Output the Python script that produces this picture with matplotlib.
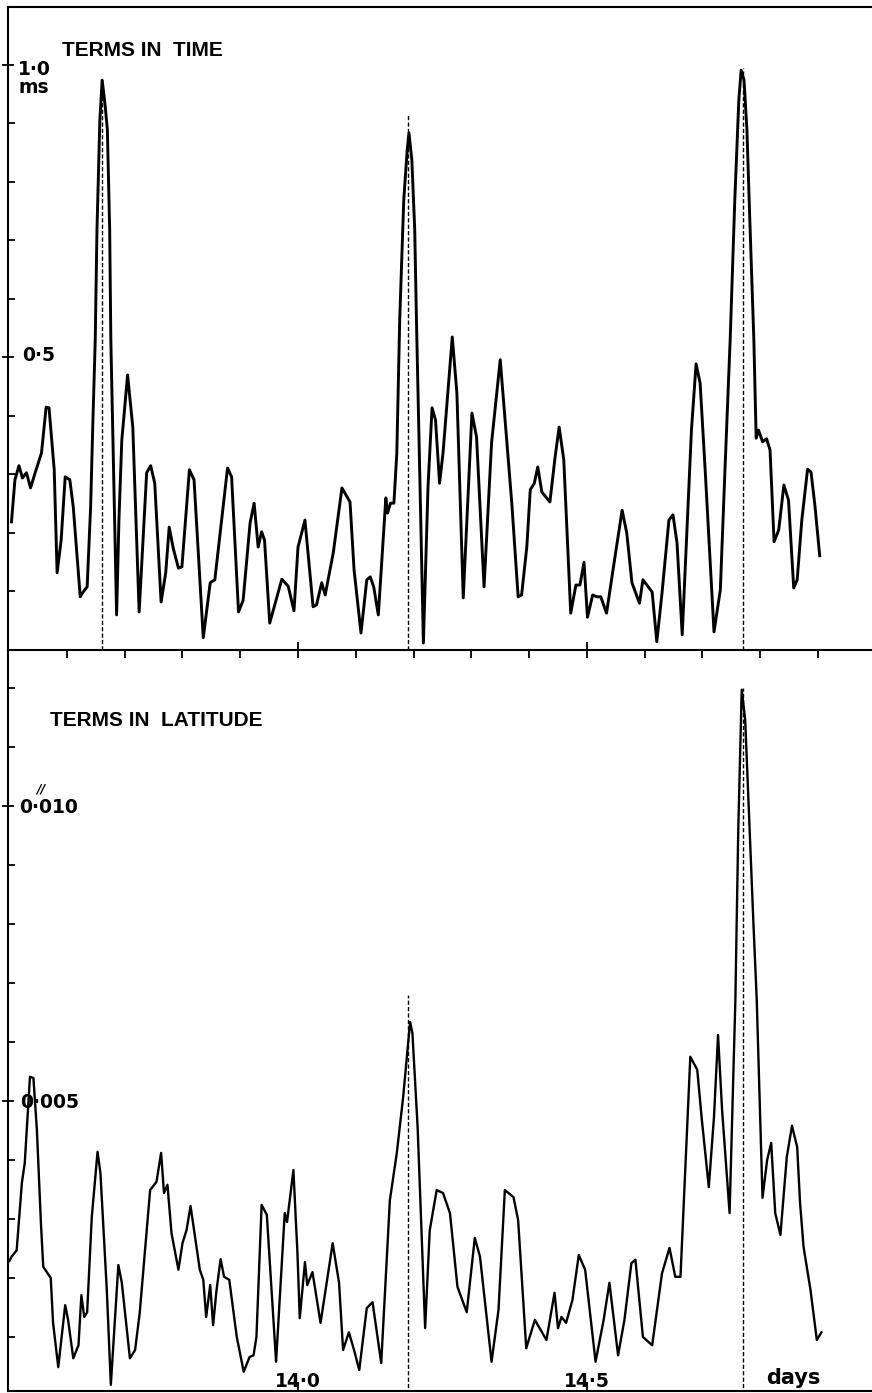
import matplotlib
matplotlib.use("Agg")
import matplotlib.pyplot as plt
from matplotlib.ticker import FixedLocator, NullFormatter
from matplotlib.transforms import blended_transform_factory

# period in days, amplitude of terms in time (ms)
time_days = [13.504, 13.510, 13.517, 13.523, 13.530, 13.537, 13.545, 13.556, 13.564, 13.569,
             13.578, 13.583, 13.590, 13.597, 13.605, 13.611, 13.623, 13.628, 13.635, 13.641,
             13.645, 13.649, 13.652, 13.657, 13.661, 13.666, 13.670, 13.674, 13.676, 13.681,
             13.686, 13.690, 13.695, 13.705, 13.714, 13.725, 13.738, 13.745, 13.752, 13.763,
             13.771, 13.777, 13.784, 13.793, 13.799, 13.812, 13.820, 13.836, 13.848, 13.856,
             13.878, 13.885, 13.897, 13.905, 13.917, 13.924, 13.931, 13.937, 13.942, 13.951,
             13.972, 13.983, 13.993, 14.000, 14.012, 14.026, 14.032, 14.041, 14.047, 14.061,
             14.076, 14.090, 14.097, 14.109, 14.119, 14.125, 14.131, 14.139, 14.152, 14.155,
             14.160, 14.166, 14.171, 14.176, 14.183, 14.189, 14.192, 14.197, 14.202, 14.205,
             14.217, 14.225, 14.232, 14.238, 14.245, 14.251, 14.267, 14.275, 14.286, 14.295,
             14.301, 14.309, 14.322, 14.335, 14.350, 14.370, 14.381, 14.387, 14.396, 14.402,
             14.409, 14.415, 14.422, 14.436, 14.445, 14.452, 14.460, 14.472, 14.481, 14.488,
             14.495, 14.501, 14.510, 14.517, 14.524, 14.534, 14.546, 14.561, 14.569, 14.578,
             14.591, 14.597, 14.613, 14.621, 14.630, 14.642, 14.649, 14.656, 14.665, 14.681,
             14.689, 14.696, 14.705, 14.720, 14.731, 14.739, 14.748, 14.756, 14.763, 14.767,
             14.772, 14.777, 14.782, 14.789, 14.793, 14.797, 14.804, 14.811, 14.817, 14.824,
             14.832, 14.841, 14.849, 14.858, 14.864, 14.872, 14.882, 14.888, 14.895, 14.903]
time_ms = [0.219, 0.291, 0.315, 0.294, 0.303, 0.277, 0.303, 0.337, 0.415, 0.414,
           0.308, 0.132, 0.188, 0.296, 0.291, 0.244, 0.091, 0.099, 0.108, 0.244,
           0.393, 0.530, 0.718, 0.906, 0.974, 0.932, 0.889, 0.718, 0.530, 0.291,
           0.060, 0.222, 0.359, 0.470, 0.381, 0.065, 0.303, 0.315, 0.285, 0.082,
           0.132, 0.210, 0.174, 0.140, 0.142, 0.308, 0.291, 0.021, 0.115, 0.120,
           0.311, 0.296, 0.065, 0.085, 0.217, 0.251, 0.176, 0.202, 0.188, 0.046,
           0.121, 0.109, 0.067, 0.176, 0.222, 0.074, 0.077, 0.115, 0.094, 0.166,
           0.277, 0.253, 0.137, 0.029, 0.120, 0.125, 0.108, 0.060, 0.260, 0.234,
           0.251, 0.251, 0.337, 0.564, 0.769, 0.855, 0.884, 0.838, 0.718, 0.564,
           0.012, 0.279, 0.414, 0.393, 0.285, 0.337, 0.535, 0.439, 0.089, 0.279,
           0.405, 0.364, 0.108, 0.354, 0.496, 0.251, 0.091, 0.094, 0.176, 0.274,
           0.285, 0.313, 0.270, 0.253, 0.330, 0.381, 0.325, 0.063, 0.111, 0.111,
           0.150, 0.056, 0.094, 0.091, 0.091, 0.063, 0.142, 0.239, 0.200, 0.115,
           0.080, 0.120, 0.099, 0.014, 0.097, 0.222, 0.231, 0.183, 0.026, 0.376,
           0.489, 0.456, 0.303, 0.031, 0.103, 0.308, 0.530, 0.769, 0.940, 0.991,
           0.974, 0.889, 0.735, 0.530, 0.362, 0.376, 0.356, 0.361, 0.342, 0.185,
           0.205, 0.282, 0.256, 0.106, 0.120, 0.222, 0.309, 0.304, 0.244, 0.161]

# terms in latitude (arcsec)
lat_days = [13.5005, 13.504, 13.513, 13.522, 13.527, 13.536, 13.542, 13.548, 13.555, 13.559,
            13.572, 13.576, 13.585, 13.597, 13.602, 13.611, 13.620, 13.625, 13.630, 13.635,
            13.643, 13.653, 13.658, 13.669, 13.676, 13.689, 13.695, 13.709, 13.718, 13.726,
            13.738, 13.744, 13.755, 13.763, 13.768, 13.774, 13.781, 13.793, 13.800, 13.807,
            13.814, 13.830, 13.836, 13.841, 13.848, 13.853, 13.859, 13.866, 13.872, 13.881,
            13.894, 13.906, 13.916, 13.923, 13.928, 13.937, 13.946, 13.962, 13.977, 13.981,
            13.992, 13.999, 14.003, 14.012, 14.016, 14.025, 14.039, 14.060, 14.071, 14.078,
            14.088, 14.097, 14.106, 14.119, 14.129, 14.144, 14.159, 14.171, 14.182, 14.194,
            14.198, 14.207, 14.220, 14.228, 14.240, 14.251, 14.263, 14.276, 14.292, 14.306,
            14.315, 14.335, 14.347, 14.358, 14.373, 14.381, 14.395, 14.410, 14.430, 14.444,
            14.450, 14.456, 14.464, 14.475, 14.486, 14.497, 14.515, 14.529, 14.539, 14.554,
            14.565, 14.577, 14.584, 14.597, 14.613, 14.630, 14.643, 14.653, 14.662, 14.670,
            14.679, 14.691, 14.699, 14.711, 14.720, 14.727, 14.734, 14.747, 14.757, 14.762,
            14.768, 14.774, 14.781, 14.788, 14.794, 14.804, 14.812, 14.819, 14.826, 14.835,
            14.846, 14.855, 14.864, 14.869, 14.875, 14.887, 14.898, 14.906]
lat_arcsec = [0.00229, 0.00236, 0.00247, 0.00361, 0.00395, 0.00541, 0.00539, 0.00451, 0.00293, 0.00219,
              0.00200, 0.00124, 0.00049, 0.00154, 0.00129, 0.00064, 0.00086, 0.00171, 0.00134, 0.00142,
              0.00303, 0.00414, 0.00378, 0.00180, 0.00019, 0.00222, 0.00192, 0.00064, 0.00078, 0.00141,
              0.00281, 0.00349, 0.00363, 0.00412, 0.00344, 0.00358, 0.00276, 0.00214, 0.00259, 0.00281,
              0.00322, 0.00214, 0.00197, 0.00134, 0.00188, 0.00120, 0.00180, 0.00232, 0.00202, 0.00197,
              0.00100, 0.00041, 0.00066, 0.00069, 0.00100, 0.00324, 0.00307, 0.00058, 0.00310, 0.00295,
              0.00383, 0.00242, 0.00132, 0.00227, 0.00188, 0.00210, 0.00124, 0.00259, 0.00192, 0.00078,
              0.00108, 0.00078, 0.00044, 0.00149, 0.00159, 0.00056, 0.00332, 0.00412, 0.00507, 0.00634,
              0.00615, 0.00456, 0.00115, 0.00281, 0.00349, 0.00344, 0.00310, 0.00185, 0.00142, 0.00268,
              0.00236, 0.00058, 0.00146, 0.00349, 0.00337, 0.00298, 0.00081, 0.00129, 0.00095, 0.00175,
              0.00115, 0.00134, 0.00124, 0.00163, 0.00239, 0.00214, 0.00058, 0.00129, 0.00192, 0.00069,
              0.00129, 0.00225, 0.00231, 0.00100, 0.00086, 0.00208, 0.00251, 0.00202, 0.00202, 0.00378,
              0.00575, 0.00553, 0.00468, 0.00354, 0.00473, 0.00612, 0.00485, 0.00310, 0.00671, 0.00959,
              0.01197, 0.01146, 0.00976, 0.00807, 0.00671, 0.00336, 0.00400, 0.00429, 0.00310, 0.00273,
              0.00405, 0.00458, 0.00422, 0.00327, 0.00253, 0.00180, 0.00095, 0.00108]

# marked periods and how far the dashed markers reach
mark_days = [13.66, 14.19, 14.77]
mark_top_time = [0.975, 0.915, 0.995]
mark_days_lat = [14.19, 14.77]
mark_top_lat = [0.0068, 0.0120]

minor_x = [13.6, 13.7, 13.8, 13.9, 14.1, 14.2, 14.3, 14.4, 14.6, 14.7, 14.8, 14.9]
major_x = [14.0, 14.5]

W, H = 872, 1393
fig = plt.figure(figsize=(W / 100, H / 100), dpi=100)
left = 8 / W
ax1 = fig.add_axes([left, (H - 650) / H, 1.0 - left, (650 - 7) / H])
ax2 = fig.add_axes([left, 2 / H, 1.0 - left, (1391 - 650) / H])
ax2.patch.set_visible(False)  # keep the shared axis ticks of the top panel visible

xlim = (13.498, 14.9935)
num_font = dict(family="DejaVu Sans", weight="bold", size=13.5)
title_font = dict(family="Liberation Sans", weight="bold", size=15)

# ---- top: terms in time
ax1.plot(time_days, time_ms, color="black", lw=2.1, solid_joinstyle="round")
for d, t in zip(mark_days, mark_top_time):
    ax1.plot([d, d], [0, t], color="black", lw=1.0, dashes=(3, 1.6))
ax1.set_xlim(*xlim)
ax1.set_ylim(0, 1.099)

ax1.spines["right"].set_visible(False)
for s in ("left", "top", "bottom"):
    ax1.spines[s].set_linewidth(1.5)

ax1.yaxis.set_major_locator(FixedLocator([0.5, 1.0]))
ax1.yaxis.set_minor_locator(FixedLocator([0.1, 0.2, 0.3, 0.4, 0.6, 0.7, 0.8, 0.9]))
ax1.yaxis.set_major_formatter(NullFormatter())
ax1.tick_params(axis="y", which="major", direction="inout", length=9, width=1.3)
ax1.tick_params(axis="y", which="minor", direction="in", length=5, width=1.3)
ax1.xaxis.set_major_locator(FixedLocator(major_x))
ax1.xaxis.set_minor_locator(FixedLocator(minor_x))
ax1.xaxis.set_major_formatter(NullFormatter())
ax1.tick_params(axis="x", which="major", direction="inout", length=12, width=1.3)
ax1.tick_params(axis="x", which="minor", direction="out", length=6, width=1.3)

tr1 = blended_transform_factory(ax1.transAxes, ax1.transData)
ax1.text(0.0116, 0.992, "1·0", transform=tr1, va="center", ha="left", **num_font)
ax1.text(0.0116, 0.961, "ms", transform=tr1, va="center", ha="left", **num_font)
ax1.text(0.0162, 0.5026, "0·5", transform=tr1, va="center", ha="left", **num_font)
ax1.text(0.0625, 0.933, "TERMS IN  TIME", transform=ax1.transAxes, va="center", ha="left", **title_font)

# ---- bottom: terms in latitude
ax2.plot(lat_days, lat_arcsec, color="black", lw=1.7, solid_joinstyle="round")
for d, t in zip(mark_days_lat, mark_top_lat):
    ax2.plot([d, d], [0, t], color="black", lw=1.0, dashes=(3, 1.6))
ax2.set_xlim(*xlim)
ax2.set_ylim(0.000085, 0.012644)

for s in ("right", "top"):
    ax2.spines[s].set_visible(False)
for s in ("left", "bottom"):
    ax2.spines[s].set_linewidth(1.5)

ax2.yaxis.set_major_locator(FixedLocator([0.005, 0.010]))
ax2.yaxis.set_minor_locator(FixedLocator([0.001, 0.002, 0.003, 0.004, 0.006, 0.007,
                                          0.008, 0.009, 0.011, 0.012]))
ax2.yaxis.set_major_formatter(NullFormatter())
ax2.tick_params(axis="y", which="major", direction="inout", length=9, width=1.3)
ax2.tick_params(axis="y", which="minor", direction="in", length=5, width=1.3)
ax2.xaxis.set_major_locator(FixedLocator(major_x))
ax2.xaxis.set_major_formatter(NullFormatter())
ax2.tick_params(axis="x", which="major", direction="in", length=6, width=1.3)

tr2 = blended_transform_factory(ax2.transAxes, ax2.transData)
ax2.text(0.0127, 0.009983, "0·010", transform=tr2, va="center", ha="left", **num_font)
ax2.text(0.038, 0.01028, "//", transform=tr2, va="center", ha="center",
         family="DejaVu Sans", weight="bold", style="italic", size=9)
ax2.text(0.0139, 0.004975, "0·005", transform=tr2, va="center", ha="left", **num_font)
ax2.text(0.0486, 0.9055, "TERMS IN  LATITUDE", transform=ax2.transAxes, va="center", ha="left", **title_font)

ax2.text(14.0, 0.00015, "14·0", va="baseline", ha="center", **num_font)
ax2.text(14.5, 0.00015, "14·5", va="baseline", ha="center", **num_font)
ax2.text(14.857, 0.0002, "days", va="baseline", ha="center",
         family="DejaVu Sans", weight="bold", size=15)

fig.savefig("out.png", dpi=100)
